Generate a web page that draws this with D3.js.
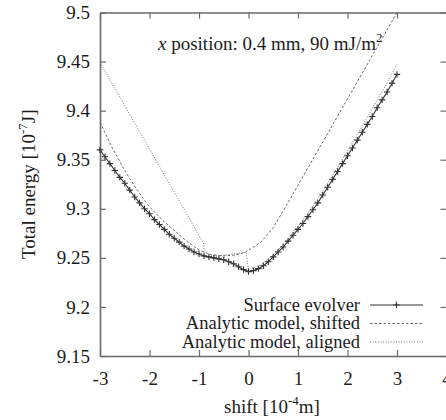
<!DOCTYPE html>
<html>
<head>
<meta charset="utf-8">
<script src="https://cdn.jsdelivr.net/npm/d3@7"></script>
<style>
  html, body { margin: 0; padding: 0; background: #fff; }
  svg { display: block; }
  svg text { font-family: "Liberation Serif", "Times New Roman", Times, "DejaVu Serif", serif !important; fill: #1c1c1c; }
</style>
</head>
<body>
<svg id="chart" width="446" height="420"></svg>
<script>
// Surface Evolver energies (shift in 1e-4 m, energy in 1e-7 J)
const evolverShift = [-3.0,-2.9,-2.8,-2.7,-2.6,-2.5,-2.4,-2.3,-2.2,-2.1,-2.0,-1.9,-1.8,-1.7,-1.6,-1.5,-1.4,-1.3,-1.2,-1.1,
  -1.0,-0.9,-0.8,-0.7,-0.6,-0.5,-0.4,-0.3,-0.2,-0.1,0.0,0.1,0.2,0.3,0.4,0.5,0.6,0.7,0.8,0.9,
  1.0,1.1,1.2,1.3,1.4,1.5,1.6,1.7,1.8,1.9,2.0,2.1,2.2,2.3,2.4,2.5,2.6,2.7,2.8,2.9,3.0];
const evolverEnergy = [9.360,9.353,9.346,9.339,9.332,9.326,9.319,9.312,9.306,9.300,9.295,9.289,9.284,9.279,9.274,9.270,9.266,9.262,9.259,9.256,
  9.254,9.252,9.251,9.250,9.249,9.248,9.246,9.244,9.241,9.238,9.236,9.237,9.239,9.242,9.246,9.251,9.256,9.261,9.267,9.273,
  9.279,9.285,9.292,9.299,9.306,9.314,9.322,9.330,9.338,9.346,9.354,9.362,9.370,9.378,9.386,9.394,9.403,9.411,9.419,9.428,9.437];

// Analytic model, shifted
const shiftedShift = [-3,-2.75,-2.5,-2.25,-2,-1.75,-1.5,-1.25,-1,-0.75,-0.5,-0.25,-0.05,0.25,0.5,0.75,1,1.25,1.5,1.75,2,2.25,2.5,2.75,3];
const shiftedEnergy = [9.388,9.362,9.339,9.319,9.302,9.289,9.278,9.267,9.258,9.253,9.252,9.253,9.256,9.266,9.281,9.302,9.324,9.346,9.368,9.390,9.412,9.434,9.456,9.478,9.500];

// Analytic model, aligned
const alignedShift = [-3,-2.5,-2,-1.5,-1,-0.9,-0.9,-0.6,-0.3,-0.05,0,0.25,0.5,0.75,1,1.25,1.5,1.75,2,2.25,2.5,2.75,3];
const alignedEnergy = [9.449,9.405,9.361,9.317,9.273,9.264,9.251,9.252,9.254,9.256,9.238,9.243,9.253,9.266,9.282,9.299,9.318,9.338,9.359,9.380,9.402,9.424,9.447];

const xTicks = [-3,-2,-1,0,1,2,3,4];
const yTicks = [9.15,9.2,9.25,9.3,9.35,9.4,9.45,9.5];
const legendLabels = ["Surface evolver","Analytic model, shifted","Analytic model, aligned"];

const svg = d3.select("#chart");
const plotLeft = 100, plotRight = 446.5, plotTop = 12.5, plotBottom = 356;
const serif = "'Liberation Serif', 'Times New Roman', Times, 'DejaVu Serif', serif";

const x = d3.scaleLinear().domain([-3, 4]).range([plotLeft, plotRight]);
const y = d3.scaleLinear().domain([9.15, 9.5]).range([plotBottom, plotTop]);

const axisColor = "#6a6a6a";
const fmtY = d => (Math.round(d * 100) / 100).toString();

function styleAxis(g) {
  g.attr("font-family", serif);
  g.select(".domain").attr("stroke", axisColor).attr("stroke-width", 1.6);
  g.selectAll(".tick line").attr("stroke", axisColor).attr("stroke-width", 1.2);
  g.selectAll(".tick text").attr("font-size", 19).attr("fill", "#1c1c1c")
    .style("font-family", serif);
}

// frame axes with inward ticks
svg.append("g").attr("transform", `translate(0,${plotBottom})`)
  .call(d3.axisBottom(x).tickValues(xTicks).tickSizeInner(-6).tickSizeOuter(0).tickPadding(16)
    .tickFormat(d => d < 0 ? "-" + Math.abs(d) : d))
  .call(styleAxis);
svg.append("g").attr("transform", `translate(0,${plotTop})`)
  .call(d3.axisTop(x).tickValues(xTicks).tickSizeInner(-6).tickSizeOuter(0).tickFormat(""))
  .call(styleAxis);
svg.append("g").attr("transform", `translate(${plotLeft},0)`)
  .call(d3.axisLeft(y).tickValues(yTicks).tickSizeInner(-6).tickSizeOuter(0).tickPadding(10).tickFormat(fmtY))
  .call(styleAxis);
svg.append("g").attr("transform", `translate(${plotRight},0)`)
  .call(d3.axisRight(y).tickValues(yTicks).tickSizeInner(-6).tickSizeOuter(0).tickFormat(""))
  .call(styleAxis);

const plot = svg.append("g");
const line = d3.line().x(d => x(d[0])).y(d => y(d[1]));

const shiftedPts = shiftedShift.map((s, i) => [s, shiftedEnergy[i]]);
const alignedPts = alignedShift.map((s, i) => [s, alignedEnergy[i]]);
const evolverPts = evolverShift.map((s, i) => [s, evolverEnergy[i]]);

plot.append("path").datum(shiftedPts).attr("d", line)
  .attr("fill", "none").attr("stroke", "#666").attr("stroke-width", 1)
  .attr("stroke-dasharray", "2.5,2");
plot.append("path").datum(alignedPts).attr("d", line)
  .attr("fill", "none").attr("stroke", "#777").attr("stroke-width", 1)
  .attr("stroke-dasharray", "1,1.6");
plot.append("path").datum(evolverPts).attr("d", line)
  .attr("fill", "none").attr("stroke", "#333").attr("stroke-width", 1.1);

const plusPath = "M-3.2,0H3.2M0,-3.2V3.2";
plot.selectAll(".mk").data(evolverPts).join("path")
  .attr("class", "mk")
  .attr("transform", d => `translate(${x(d[0])},${y(d[1])})`)
  .attr("d", plusPath)
  .attr("stroke", "#333").attr("stroke-width", 1.1).attr("fill", "none");

// annotation
const note = svg.append("text").attr("x", 158).attr("y", 50).attr("font-size", 19).style("font-family", serif);
note.append("tspan").attr("font-style", "italic").text("x");
note.append("tspan").text(" position: 0.4 mm, 90 mJ/m");
note.append("tspan").attr("font-size", 13).attr("dy", -8).text("2");

// legend
const legendY = [305, 323.5, 342];
const legendStyles = [
  { dash: null, color: "#333", marker: true },
  { dash: "2.5,2", color: "#666", marker: false },
  { dash: "1,1.6", color: "#777", marker: false }
];
legendLabels.forEach((lab, i) => {
  svg.append("text").attr("x", 360).attr("y", legendY[i] + 5.5).attr("text-anchor", "end")
    .attr("font-size", 18.5).style("font-family", serif).text(lab);
  const ln = svg.append("line").attr("x1", 370).attr("x2", 423)
    .attr("y1", legendY[i]).attr("y2", legendY[i])
    .attr("stroke", legendStyles[i].color).attr("stroke-width", 1);
  if (legendStyles[i].dash) ln.attr("stroke-dasharray", legendStyles[i].dash);
  if (legendStyles[i].marker) {
    svg.append("path").attr("transform", `translate(396.5,${legendY[i]})`).attr("d", plusPath)
      .attr("stroke", "#333").attr("stroke-width", 1.1);
  }
});

// axis titles
const xt = svg.append("text").attr("x", (plotLeft + 446) / 2 - 1).attr("y", 413)
  .attr("text-anchor", "middle").attr("font-size", 19).style("font-family", serif);
xt.append("tspan").text("shift [10");
xt.append("tspan").attr("font-size", 13).attr("dy", -8).text("-4");
xt.append("tspan").attr("dy", 8).text("m]");

const yt = svg.append("text")
  .attr("transform", `translate(35,${(plotTop + plotBottom) / 2}) rotate(-90)`)
  .attr("text-anchor", "middle").attr("font-size", 19).style("font-family", serif);
yt.append("tspan").text("Total energy [10");
yt.append("tspan").attr("font-size", 13).attr("dy", -8).text("-7");
yt.append("tspan").attr("dy", 8).text("J]");
</script>
</body>
</html>
